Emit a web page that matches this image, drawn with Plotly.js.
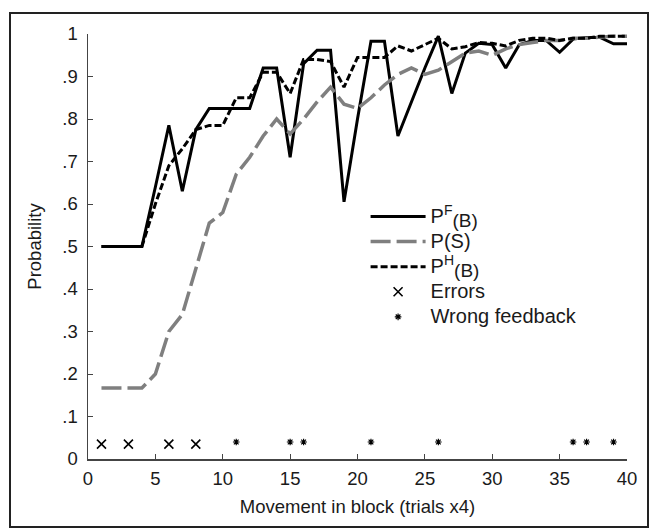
<!DOCTYPE html>
<html>
<head>
<meta charset="utf-8">
<script src="https://cdn.plot.ly/plotly-3.0.1.min.js"></script>
<style>
  html, body { margin: 0; padding: 0; background: #fff; }
  #wrap { position: relative; width: 650px; height: 529px; }
  #chart { position: absolute; left: 0; top: 0; width: 650px; height: 529px; }
  #frame { position: absolute; left: 9px; top: 12px; width: 636px; height: 512px;
           border: 2px solid #222; pointer-events: none; }
</style>
</head>
<body>
<div id="wrap"><div id="chart"></div><div id="frame"></div></div>
<script>
const movement = [1,2,3,4,5,6,7,8,9,10,11,12,13,14,15,16,17,18,19,20,21,22,23,24,25,26,27,28,29,30,31,32,33,34,35,36,37,38,39,40];
const pFB = [.5,.5,.5,.5,.64,.785,.63,.775,.825,.825,.825,.825,.92,.92,.71,.93,.962,.962,.605,.80,.983,.983,.76,.84,.92,.995,.86,.955,.978,.975,.92,.975,.985,.985,.957,.988,.992,.992,.977,.977];
const pS = [.167,.167,.167,.167,.2,.3,.34,.45,.555,.58,.67,.71,.76,.80,.765,.80,.84,.875,.835,.825,.85,.88,.905,.92,.905,.915,.935,.955,.96,.95,.965,.975,.98,.985,.985,.99,.99,.993,.995,.995];
const pHB = [.5,.5,.5,.5,.6,.69,.73,.775,.785,.785,.85,.85,.91,.91,.86,.94,.94,.935,.875,.945,.945,.945,.972,.96,.975,.99,.965,.97,.98,.978,.972,.985,.99,.99,.985,.99,.99,.995,.995,.995];
const errorX = [1,3,6,8];
const errorY = [0.035,0.035,0.035,0.035];
const wrongX = [11,15,16,21,26,36,37,39];
const wrongY = [0.04,0.04,0.04,0.04,0.04,0.04,0.04,0.04];
const yTickVals = [0,0.1,0.2,0.3,0.4,0.5,0.6,0.7,0.8,0.9,1];
const yTickText = ['0','.1','.2','.3','.4','.5','.6','.7','.8','.9','1'];
const xTickVals = [0,5,10,15,20,25,30,35,40];

const FONT = 'Liberation Sans, Arial, sans-serif';
const TXT = '#1a1a1a';
const big = s => '<span style="font-size:20px">' + s + '</span>';

const traces = [
  {x: movement, y: pFB, type: 'scatter', mode: 'lines',
   name: big('P<sup>F</sup><sub><span style="font-size:19px">(B)</span></sub>'),
   line: {color: '#000', width: 3}},
  {x: movement, y: pS, type: 'scatter', mode: 'lines', name: big('P(S)'),
   line: {color: '#7f7f7f', width: 3.5, dash: '20px,6px'}},
  {x: movement, y: pHB, type: 'scatter', mode: 'lines',
   name: big('P<sup>H</sup><sub><span style="font-size:19px">(B)</span></sub>'),
   line: {color: '#000', width: 3, dash: '7px,3px'}},
  {x: errorX, y: errorY, type: 'scatter', mode: 'markers', name: big('Errors'),
   marker: {symbol: 'x-thin-open', size: 9, color: '#000', line: {color: '#000', width: 1.6}}},
  {x: wrongX, y: wrongY, type: 'scatter', mode: 'markers', name: big('Wrong feedback'),
   marker: {symbol: 'asterisk-open', size: 5.5, color: '#000', line: {color: '#000', width: 1.2}}}
];

const layout = {
  width: 650, height: 529,
  margin: {l: 88, r: 23, t: 34, b: 70},
  paper_bgcolor: '#fff', plot_bgcolor: '#fff',
  font: {family: FONT, size: 18.5, color: TXT},
  showlegend: true,
  legend: {x: 0.515, y: 0.612, xanchor: 'left', yanchor: 'top', bgcolor: 'rgba(0,0,0,0)',
           borderwidth: 0, font: {family: FONT, size: 17, color: TXT},
           itemwidth: 55, tracegroupgap: 0},
  xaxis: {range: [0, 40], tickvals: xTickVals, ticks: 'inside', ticklen: 5, tickcolor: '#444',
          showline: true, linecolor: '#444', linewidth: 1.5, showgrid: false, zeroline: false,
          ticklabelstandoff: 2,
          tickfont: {family: FONT, size: 18.5, color: TXT},
          title: {text: 'Movement in block (trials x4)', font: {family: FONT, size: 18.5, color: TXT}, standoff: 12}},
  yaxis: {range: [0, 1], tickvals: yTickVals, ticktext: yTickText, ticks: 'inside', ticklen: 5, tickcolor: '#444',
          showline: true, linecolor: '#444', linewidth: 1.5, showgrid: false, zeroline: false,
          ticklabelstandoff: 5,
          tickfont: {family: FONT, size: 18.5, color: TXT},
          title: {text: 'Probability', font: {family: FONT, size: 18.5, color: TXT}, standoff: 16}}
};

Plotly.newPlot('chart', traces, layout, {staticPlot: true, displayModeBar: false});
</script>
</body>
</html>
